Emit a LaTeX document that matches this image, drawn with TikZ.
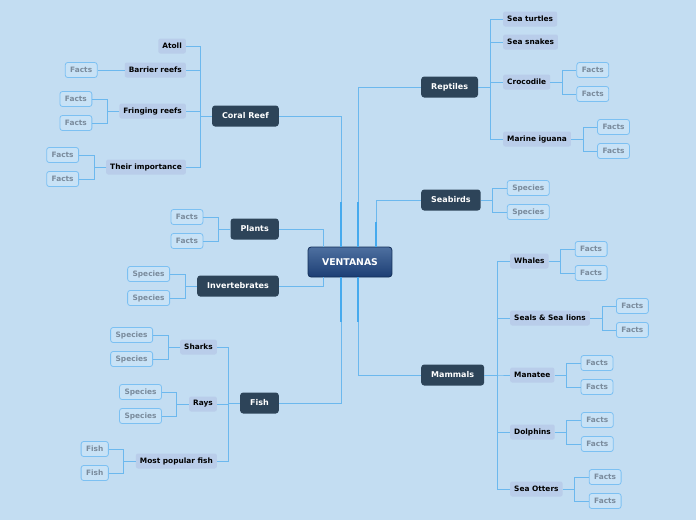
\documentclass[tikz,border=0pt]{standalone}
\usepackage{fontspec}
\setmainfont{DejaVu Sans}
\usetikzlibrary{positioning, calc}
\definecolor{SkyBack}{RGB}{195, 221, 242}
\definecolor{RootTop}{RGB}{78, 112, 160}
\definecolor{RootBottom}{RGB}{28, 62, 116}
\definecolor{RootEdge}{RGB}{18, 46, 88}
\definecolor{TopicFill}{RGB}{45, 68, 89}
\definecolor{SubFill}{RGB}{185, 205, 234}
\definecolor{LeafEdge}{RGB}{124, 192, 242}
\definecolor{LeafFill}{RGB}{200, 226, 246}
\definecolor{LeafText}{RGB}{122, 139, 156}
\definecolor{TrunkBlue}{RGB}{70, 170, 238}
\definecolor{TwigBlue}{RGB}{108, 184, 238}

\begin{document}
\begin{tikzpicture}[x=1pt, y=-1pt,
    root/.style={draw=RootEdge, line width=0.8pt, top color=RootTop, bottom color=RootBottom, rounded corners=3pt, text=white, font=\fontsize{9.3}{11}\selectfont\bfseries, minimum height=30pt, inner xsep=14pt},
    topic/.style={fill=TopicFill, rounded corners=3pt, text=white, font=\fontsize{8}{9}\selectfont\bfseries, minimum height=21pt, inner xsep=10pt},
    subtopic/.style={fill=SubFill, rounded corners=2pt, text=black, font=\fontsize{7.4}{8}\selectfont\bfseries, minimum height=15pt, inner xsep=4pt},
    leaf/.style={draw=LeafEdge, line width=0.8pt, fill=LeafFill, rounded corners=2.5pt, text=LeafText, font=\fontsize{7.4}{8}\selectfont\bfseries, minimum height=15pt, inner xsep=5pt},
    trunk/.style={draw=TrunkBlue, line width=1.1pt},
    twig/.style={draw=TwigBlue, line width=0.9pt}]

    % Background
    \fill[SkyBack] (0,0) rectangle (696,520);
    \useasboundingbox (0,0) rectangle (696,520);

    % Central node
    \node[root] (root) at (350,262) {VENTANAS};

    % Main topics
    \node[topic, anchor=east] (coral) at (279,116) {Coral Reef};
    \node[topic, anchor=east] (plants) at (279,229) {Plants};
    \node[topic, anchor=east] (invert) at (279,286) {Invertebrates};
    \node[topic, anchor=east] (fish) at (279,403) {Fish};
    \node[topic, anchor=west] (reptiles) at (421,87) {Reptiles};
    \node[topic, anchor=west] (seabirds) at (421,200) {Seabirds};
    \node[topic, anchor=west] (mammals) at (421,375) {Mammals};

    % Root connectors
    \draw[twig] ([xshift=-9pt]root.north) |- (coral.east);
    \draw[twig] ([xshift=-9pt]root.south) |- (fish.east);
    \draw[twig] ([xshift=-27pt]root.north) |- (plants.east);
    \draw[twig] ([xshift=-27pt]root.south) |- (invert.east);
    \draw[twig] ([xshift=8pt]root.north) |- (reptiles.west);
    \draw[twig] ([xshift=26pt]root.north) |- (seabirds.west);
    \draw[twig] ([xshift=8pt]root.south) |- (mammals.west);
    \draw[trunk] ([xshift=-9pt]root.north) -- ++(0,-45);
    \draw[trunk] ([xshift=-9pt]root.south) -- ++(0,45);
    \draw[trunk] ([xshift=8pt]root.north) -- ++(0,-45);
    \draw[trunk] ([xshift=8pt]root.south) -- ++(0,45);
    \draw[trunk] ([xshift=26pt]root.north) -- ++(0,-25);

    % Coral reef branch
    \node[subtopic, anchor=east] (atoll) at (186,46) {Atoll};
    \node[subtopic, anchor=east] (barrier) at (186,70) {Barrier reefs};
    \node[subtopic, anchor=east] (fringing) at (186,111) {Fringing reefs};
    \node[subtopic, anchor=east] (importance) at (186,167) {Their importance};
    \foreach \c in {atoll, barrier, fringing, importance}
        \draw[twig] (coral.west) -- ++(-11,0) |- (\c.east);
    \node[leaf, anchor=east] (barrier-a) at ($(barrier.west)+(-27,0)$) {Facts};
    \draw[twig] (barrier.west) -- (barrier-a.east);

    % Fish branch
    \node[subtopic, anchor=east] (sharks) at (217,347) {Sharks};
    \node[subtopic, anchor=east] (rays) at (217,404) {Rays};
    \node[subtopic, anchor=east] (popular) at (217,461) {Most popular fish};
    \foreach \c in {sharks, rays, popular}
        \draw[twig] (fish.west) -- ++(-11,0) |- (\c.east);

    % Reptiles branch
    \node[subtopic, anchor=west] (turtles) at (503,19) {Sea turtles};
    \node[subtopic, anchor=west] (snakes) at (503,42) {Sea snakes};
    \node[subtopic, anchor=west] (croc) at (503,82) {Crocodile};
    \node[subtopic, anchor=west] (iguana) at (503,139) {Marine iguana};
    \foreach \c in {turtles, snakes, croc, iguana}
        \draw[twig] (reptiles.east) -- ++(12,0) |- (\c.west);

    % Mammals branch
    \node[subtopic, anchor=west] (whales) at (510,261) {Whales};
    \node[subtopic, anchor=west] (seals) at (510,318) {Seals \& Sea lions};
    \node[subtopic, anchor=west] (manatee) at (510,375) {Manatee};
    \node[subtopic, anchor=west] (dolphins) at (510,432) {Dolphins};
    \node[subtopic, anchor=west] (otters) at (510,489) {Sea Otters};
    \foreach \c in {whales, seals, manatee, dolphins, otters}
        \draw[twig] (mammals.east) -- ++(13,0) |- (\c.west);

    % Leaf pairs, left side
    \foreach \p/\txt in {fringing/Facts, importance/Facts, plants/Facts, invert/Species, sharks/Species, rays/Species, popular/Fish} {
        \node[leaf, anchor=east] (\p-a) at ($(\p.west)+(-27,-12)$) {\txt};
        \node[leaf, anchor=east] (\p-b) at ($(\p.west)+(-27,12)$) {\txt};
        \draw[twig] (\p.west) -- ++(-12,0) |- (\p-a.east);
        \draw[twig] (\p.west) -- ++(-12,0) |- (\p-b.east);
    }

    % Leaf pairs, right side
    \foreach \p/\txt in {croc/Facts, iguana/Facts, seabirds/Species, whales/Facts, seals/Facts, manatee/Facts, dolphins/Facts, otters/Facts} {
        \node[leaf, anchor=west] (\p-a) at ($(\p.east)+(26,-12)$) {\txt};
        \node[leaf, anchor=west] (\p-b) at ($(\p.east)+(26,12)$) {\txt};
        \draw[twig] (\p.east) -- ++(12,0) |- (\p-a.west);
        \draw[twig] (\p.east) -- ++(12,0) |- (\p-b.west);
    }
\end{tikzpicture}
\end{document}
